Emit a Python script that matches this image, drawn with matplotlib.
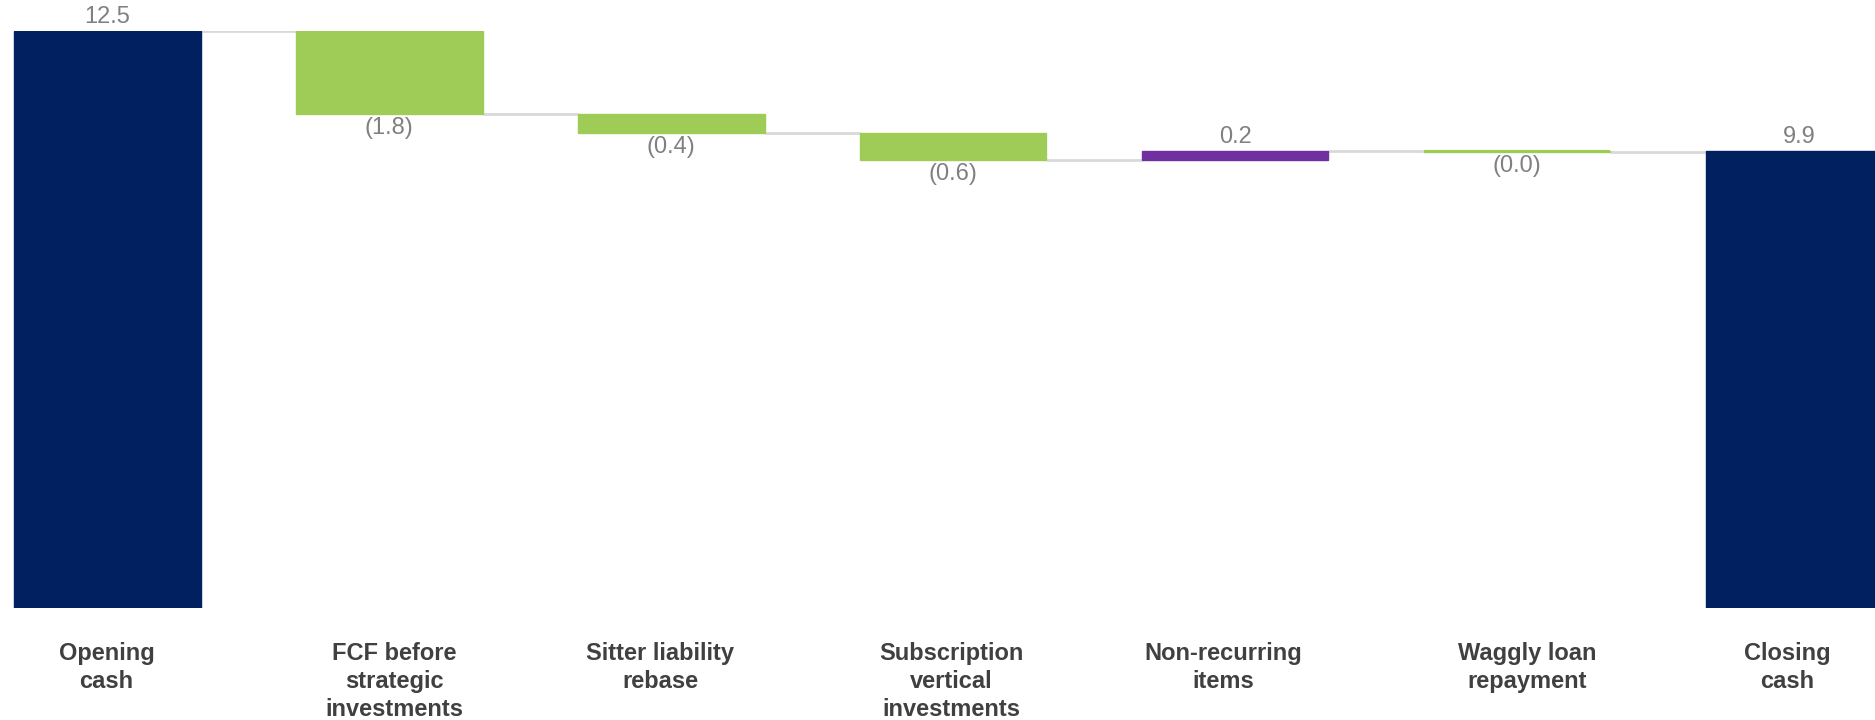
import matplotlib.pyplot as plt

categories = ['Opening\ncash', 'FCF before\nstrategic\ninvestments', 'Sitter liability\nrebase',
              'Subscription\nvertical\ninvestments', 'Non-recurring\nitems', 'Waggly loan\nrepayment',
              'Closing\ncash']
opening = 12.5
changes = [-1.8, -0.4, -0.6, 0.2, -0.02]
closing = 9.9

NAVY = '#002060'
GREEN = '#9FCC57'
PURPLE = '#7030A0'
LABEL_GREY = '#808080'
CONNECTOR = '#D9D9D9'

# small horizontal nudges of the category captions (pixels)
label_shift = [-1, 5, -11, -2, -12, 10, -12]


def fmt(v):
    s = f'{abs(v):.1f}'
    return f'({s})' if v < 0 else s


plt.rcParams['font.family'] = ['Liberation Sans', 'DejaVu Sans']

fig = plt.figure(figsize=(18.75, 7.2), dpi=100)
ax = fig.add_axes([0, 0.1556, 1, 0.801])

width = 0.662
x = list(range(len(categories)))

# running totals for the floating bars
bottoms, heights, colors, tops = [], [], [], []
level = opening
bottoms.append(0); heights.append(opening); colors.append(NAVY); tops.append(opening)
for v in changes:
    bottoms.append(level)
    heights.append(v)
    colors.append(GREEN if v < 0 else PURPLE)
    level += v
    tops.append(level)
bottoms.append(0); heights.append(closing); colors.append(NAVY); tops.append(closing)

ax.bar(x, heights, width=width, bottom=bottoms, color=colors, edgecolor=colors, linewidth=1, zorder=2)
# tiny changes still show as a thin line
for i, h in enumerate(heights):
    if abs(h) < 0.05:
        ax.hlines(bottoms[i], i - width / 2, i + width / 2, color=colors[i], lw=1.5, zorder=3)

# connectors between consecutive bars
for i in range(len(x) - 1):
    ax.hlines(tops[i], i + width / 2, i + 1 - width / 2, color=CONNECTOR, lw=2, zorder=1)

# value labels
values = [opening] + changes + [closing]
for i, v in enumerate(values):
    b, h = bottoms[i], heights[i]
    if v >= 0:
        ax.annotate(fmt(v), (i, b + h), xytext=(0, 2), textcoords='offset points',
                    ha='center', va='bottom', fontsize=17, color=LABEL_GREY, annotation_clip=False)
    else:
        ax.annotate(fmt(v), (i, b + h), xytext=(0, -2), textcoords='offset points',
                    ha='center', va='top', fontsize=17, color=LABEL_GREY, annotation_clip=False)

# category captions under the bars
for i, (name, dx) in enumerate(zip(categories, label_shift)):
    ax.annotate(name, (i, 0), xytext=(dx, -34), textcoords='offset pixels',
                ha='center', va='top', multialignment='center', fontsize=17,
                fontweight='bold', color='#404040', linespacing=1.28, annotation_clip=False)

ax.set_xticks([])
ax.set_yticks([])
ax.set_xlim(-0.381, 6.270)
ax.set_ylim(0, 12.5)
for s in ax.spines.values():
    s.set_visible(False)

fig.savefig('out.png', dpi=100)
